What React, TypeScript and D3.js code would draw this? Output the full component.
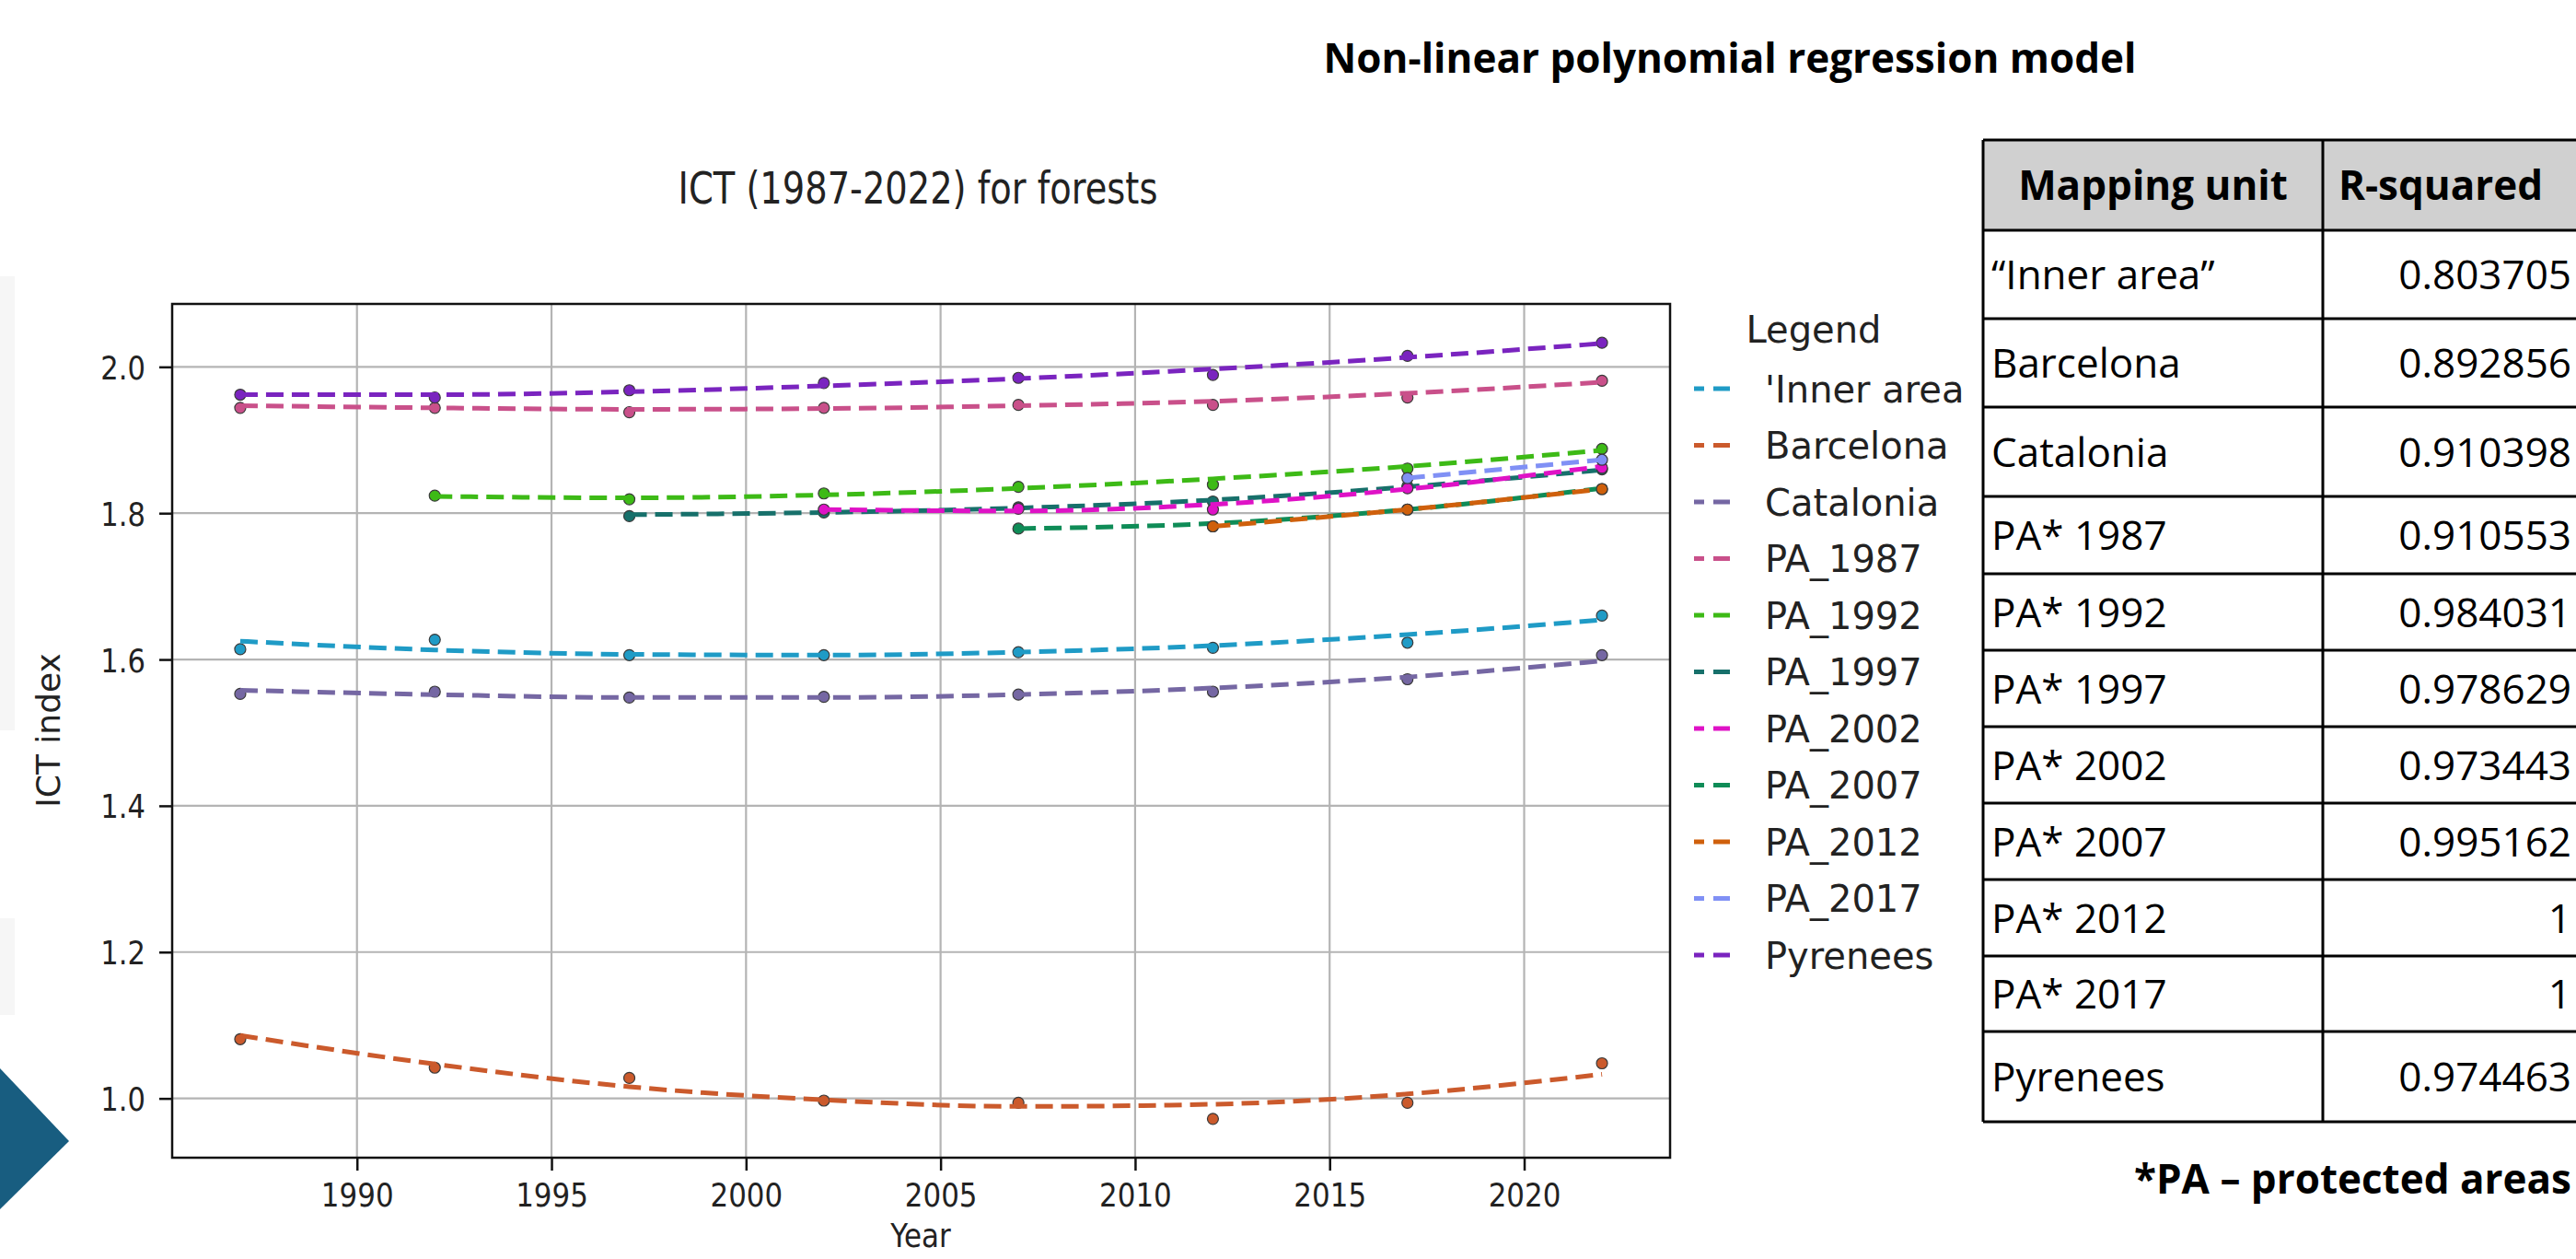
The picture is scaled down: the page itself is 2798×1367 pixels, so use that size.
import React, { useEffect, useRef } from 'react';
import * as d3 from 'd3';

// sample years of the ICT series
const years = [1987, 1992, 1997, 2002, 2007, 2012, 2017, 2022];
const xTicks = [1990, 1995, 2000, 2005, 2010, 2015, 2020];
const yTicks = [1.0, 1.2, 1.4, 1.6, 1.8, 2.0];

const seriesNames = ["'Inner area", 'Barcelona', 'Catalonia', 'PA_1987', 'PA_1992', 'PA_1997', 'PA_2002', 'PA_2007', 'PA_2012', 'PA_2017', 'Pyrenees'];
const seriesColors = ['#1f9bc6', '#cb5a2c', '#7567a3', '#c9508a', '#3dba16', '#17706b', '#df12c6', '#0f8c57', '#cf600c', '#8090f5', '#7a24bf'];

// observed ICT index (null = protected area not yet declared)
const innerArea = [1.614, 1.627, 1.606, 1.606, 1.610, 1.616, 1.623, 1.660];
const barcelona = [1.081, 1.042, 1.028, 0.997, 0.994, 0.972, 0.994, 1.048];
const catalonia = [1.553, 1.556, 1.548, 1.549, 1.552, 1.556, 1.573, 1.606];
const pa1987 = [1.944, 1.944, 1.938, 1.944, 1.948, 1.948, 1.958, 1.981];
const pa1992 = [null, 1.824, 1.819, 1.827, 1.836, 1.839, 1.861, 1.888];
const pa1997 = [null, null, 1.796, 1.801, 1.808, 1.816, 1.837, 1.860];
const pa2002 = [null, null, null, 1.805, 1.806, 1.805, 1.834, 1.862];
const pa2007 = [null, null, null, null, 1.779, 1.782, 1.805, 1.833];
const pa2012 = [null, null, null, null, null, 1.782, 1.805, 1.833];
const pa2017 = [null, null, null, null, null, null, 1.848, 1.873];
const pyrenees = [1.962, 1.958, 1.968, 1.978, 1.985, 1.989, 2.015, 2.033];

// polynomial fit values at the same years
const innerAreaFit = [1.625, 1.613, 1.607, 1.606, 1.610, 1.619, 1.634, 1.654];
const barcelonaFit = [1.086, 1.047, 1.016, 0.998, 0.989, 0.992, 1.006, 1.033];
const cataloniaFit = [1.558, 1.552, 1.548, 1.548, 1.552, 1.561, 1.576, 1.598];
const pa1987Fit = [1.947, 1.944, 1.942, 1.943, 1.947, 1.953, 1.964, 1.979];
const pa1992Fit = [null, 1.823, 1.821, 1.825, 1.834, 1.847, 1.864, 1.886];
const pa1997Fit = [null, null, 1.798, 1.801, 1.807, 1.818, 1.836, 1.859];
const pa2002Fit = [null, null, null, 1.805, 1.803, 1.812, 1.833, 1.864];
const pa2007Fit = [null, null, null, null, 1.779, 1.786, 1.805, 1.834];
const pa2012Fit = [null, null, null, null, null, 1.782, 1.805, 1.833];
const pa2017Fit = [null, null, null, null, null, null, 1.848, 1.873];
const pyreneesFit = [1.962, 1.962, 1.966, 1.974, 1.984, 1.997, 2.013, 2.032];

const observed = [innerArea, barcelona, catalonia, pa1987, pa1992, pa1997, pa2002, pa2007, pa2012, pa2017, pyrenees];
const fitted = [innerAreaFit, barcelonaFit, cataloniaFit, pa1987Fit, pa1992Fit, pa1997Fit, pa2002Fit, pa2007Fit, pa2012Fit, pa2017Fit, pyreneesFit];

// R-squared table
const tableUnits = ['\u201CInner area\u201D', 'Barcelona', 'Catalonia', 'PA* 1987', 'PA* 1992', 'PA* 1997', 'PA* 2002', 'PA* 2007', 'PA* 2012', 'PA* 2017', 'Pyrenees'];
const tableR2 = ['0.803705', '0.892856', '0.910398', '0.910553', '0.984031', '0.978629', '0.973443', '0.995162', '1', '1', '0.974463'];

const W = 2798;
const H = 1367;
const plot = { left: 187, right: 1814, top: 330, bottom: 1257 };
const rowEdges = [152, 250, 346, 442, 539, 623, 706, 789, 872, 955, 1038, 1120, 1218];
const slideFont = "'Open Sans', 'Noto Sans', sans-serif";
const mplFont = "'DejaVu Sans', sans-serif";

const App = () => {
  const chartRef = useRef<SVGGElement>(null);

  useEffect(() => {
    if (!chartRef.current) return;
    const g = d3.select(chartRef.current);
    g.selectAll('*').remove();

    const xPad = (d3.max(years)! - d3.min(years)!) * 0.05;
    const x = d3.scaleLinear()
      .domain([d3.min(years)! - xPad, d3.max(years)! + xPad])
      .range([plot.left, plot.right]);

    const vals = observed.concat(fitted).flat().filter(v => v != null) as number[];
    const [lo, hi] = d3.extent(vals) as [number, number];
    const yPad = (hi - lo) * 0.05;
    const y = d3.scaleLinear().domain([lo - yPad, hi + yPad]).range([plot.bottom, plot.top]);

    // grid
    g.append('g').selectAll('line').data(xTicks).join('line')
      .attr('x1', d => x(d)).attr('x2', d => x(d))
      .attr('y1', plot.top).attr('y2', plot.bottom)
      .attr('stroke', '#b4b4b4').attr('stroke-width', 2.2);
    g.append('g').selectAll('line').data(yTicks).join('line')
      .attr('x1', plot.left).attr('x2', plot.right)
      .attr('y1', d => y(d)).attr('y2', d => y(d))
      .attr('stroke', '#b4b4b4').attr('stroke-width', 2.2);

    // series: scatter + dashed fit
    const line = d3.line<{ yr: number; v: number }>()
      .x(d => x(d.yr)).y(d => y(d.v))
      .curve(d3.curveMonotoneX);

    seriesNames.forEach((name, i) => {
      const pts = years.map((yr, j) => ({ yr, v: observed[i][j] as number })).filter(d => d.v != null);
      const fit = years.map((yr, j) => ({ yr, v: fitted[i][j] as number })).filter(d => d.v != null);
      g.append('g').selectAll('circle').data(pts).join('circle')
        .attr('cx', d => x(d.yr)).attr('cy', d => y(d.v)).attr('r', 6)
        .attr('fill', seriesColors[i]).attr('stroke', '#3a3a3a').attr('stroke-width', 1.2);
      g.append('path').datum(fit)
        .attr('d', line)
        .attr('fill', 'none')
        .attr('stroke', seriesColors[i])
        .attr('stroke-width', 5)
        .attr('stroke-dasharray', '19 9');
    });

    // axes
    const xAxis = g.append('g')
      .attr('transform', `translate(0,${plot.bottom})`)
      .call(d3.axisBottom(x).tickValues(xTicks).tickSize(14).tickFormat(d3.format('d')));
    xAxis.select('.domain').remove();
    xAxis.selectAll('line').attr('stroke', '#111').attr('stroke-width', 2.5);
    xAxis.selectAll('text')
      .attr('font-family', mplFont).attr('font-size', 36).attr('fill', '#222')
      .attr('y', 53).attr('dy', null).attr('transform', 'scale(0.86,1)');

    const yAxis = g.append('g')
      .attr('transform', `translate(${plot.left},0)`)
      .call(d3.axisLeft(y).tickValues(yTicks).tickSize(14).tickFormat(d3.format('.1f')));
    yAxis.select('.domain').remove();
    yAxis.selectAll('line').attr('stroke', '#111').attr('stroke-width', 2.5);
    yAxis.selectAll('text')
      .attr('font-family', mplFont).attr('font-size', 36).attr('fill', '#222')
      .attr('x', -29 / 0.85).attr('dy', '0.36em').attr('transform', 'scale(0.85,1)');

    // frame
    g.append('rect')
      .attr('x', plot.left).attr('y', plot.top)
      .attr('width', plot.right - plot.left).attr('height', plot.bottom - plot.top)
      .attr('fill', 'none').attr('stroke', '#111').attr('stroke-width', 2.5);

    // legend
    const leg = g.append('g');
    leg.append('text')
      .attr('x', 1970).attr('y', 372).attr('text-anchor', 'middle')
      .attr('font-family', mplFont).attr('font-size', 40).attr('fill', '#222')
      .text('Legend');
    seriesNames.forEach((name, i) => {
      const cy = 422 + i * 61.5;
      leg.append('line')
        .attr('x1', 1840).attr('x2', 1880).attr('y1', cy).attr('y2', cy)
        .attr('stroke', seriesColors[i]).attr('stroke-width', 5)
        .attr('stroke-dasharray', '18 10').attr('stroke-dashoffset', 7);
      leg.append('text')
        .attr('x', 1917).attr('y', cy + 14.5)
        .attr('font-family', mplFont).attr('font-size', 40).attr('fill', '#222')
        .text(name);
    });
  }, []);

  const colX = [2154, 2523, 2802];

  return (
    <svg width={W} height={H} style={{ position: 'absolute', left: 0, top: 0, display: 'block', background: '#fff' }}>
      <rect x={0} y={0} width={W} height={H} fill="#fff" />
      <rect x={0} y={300} width={16} height={493} fill="#f6f6f6" />
      <rect x={0} y={997} width={16} height={105} fill="#f6f6f6" />
      <polygon points="0,1160 75,1239 0,1313" fill="#185d80" />

      <text x={1879} y={79} textAnchor="middle" fontFamily={slideFont} fontWeight={700} fontSize={44} fill="#000">
        Non-linear polynomial regression model
      </text>

      <text transform="translate(997,221) scale(0.8,1)" textAnchor="middle" fontFamily={mplFont} fontSize={48} fill="#222">
        ICT (1987-2022) for forests
      </text>
      <text transform="translate(65,793) rotate(-90)" textAnchor="middle" fontFamily={mplFont} fontSize={36} fill="#222">
        ICT index
      </text>
      <text transform="translate(1000,1354) scale(0.86,1)" textAnchor="middle" fontFamily={mplFont} fontSize={36} fill="#222">
        Year
      </text>

      <g ref={chartRef} />

      {/* R-squared table */}
      <rect x={colX[0]} y={rowEdges[0]} width={colX[2] - colX[0]} height={rowEdges[1] - rowEdges[0]} fill="#d0d0d0" />
      <g stroke="#000" strokeWidth={3}>
        {rowEdges.map((ry, i) => (
          <line key={`h${i}`} x1={colX[0]} x2={colX[2]} y1={ry} y2={ry} />
        ))}
        {colX.map((cx, i) => (
          <line key={`v${i}`} x1={cx} x2={cx} y1={rowEdges[0]} y2={rowEdges[rowEdges.length - 1]} />
        ))}
      </g>
      <g fontFamily={slideFont} fontSize={44} fill="#000">
        <text x={(colX[0] + colX[1]) / 2} y={(rowEdges[0] + rowEdges[1]) / 2 + 16} textAnchor="middle" fontWeight={700}>Mapping unit</text>
        <text x={2651} y={(rowEdges[0] + rowEdges[1]) / 2 + 16} textAnchor="middle" fontWeight={700}>R-squared</text>
        {tableUnits.map((u, i) => (
          <text key={u} x={2163} y={(rowEdges[i + 1] + rowEdges[i + 2]) / 2 + 16}>{u}</text>
        ))}
        {tableR2.map((v, i) => (
          <text key={`r${i}`} x={2793} y={(rowEdges[i + 1] + rowEdges[i + 2]) / 2 + 16} textAnchor="end">{v}</text>
        ))}
      </g>

      <text x={2793} y={1296} textAnchor="end" fontFamily={slideFont} fontWeight={700} fontSize={44} fill="#000">
        *PA – protected areas
      </text>
    </svg>
  );
};

export default App;
